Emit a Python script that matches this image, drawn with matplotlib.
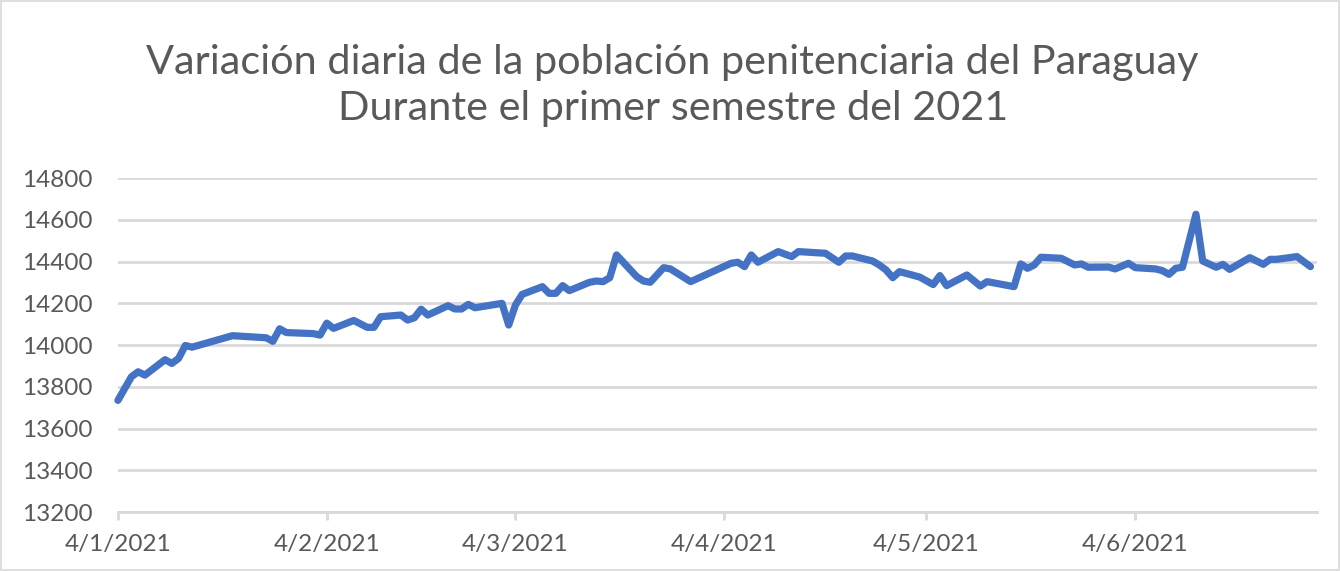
import datetime as dt
import matplotlib
matplotlib.use("Agg")
import matplotlib.pyplot as plt
import matplotlib.dates as mdates
from matplotlib.patches import Rectangle
from matplotlib.ticker import FuncFormatter, MultipleLocator

# Days counted from 4 Jan 2021 (first record) and inmate totals
start_date = dt.date(2021, 1, 4)
day_offsets = [0, 2, 3, 4, 7, 8, 9, 10, 11, 17, 22, 23, 24, 25, 29, 30, 31, 32, 35,
               37, 38, 39, 42, 43, 44, 45, 46, 49, 50, 51, 52, 53, 57, 58, 59, 60,
               63, 64, 65, 66, 67, 70, 71, 72, 73, 74, 77, 78, 79, 81, 82, 85, 91,
               92, 93, 94, 95, 98, 100, 101, 105, 107, 108, 109, 112, 113, 114, 115,
               116, 119, 121, 122, 123, 126, 128, 129, 133, 134, 135, 136, 137, 140,
               142, 143, 144, 147, 148, 150, 151, 154, 155, 156, 157, 158, 160, 161,
               163, 164, 165, 168, 170, 171, 172, 175, 177]
poblacion = [13735, 13848, 13872, 13856, 13930, 13912, 13936, 13998, 13990, 14045,
             14035, 14018, 14078, 14060, 14055, 14048, 14105, 14080, 14118, 14085,
             14085, 14136, 14144, 14120, 14131, 14172, 14144, 14189, 14173, 14173,
             14195, 14179, 14200, 14096, 14192, 14243, 14280, 14248, 14248, 14285,
             14261, 14301, 14307, 14304, 14323, 14432, 14328, 14307, 14301, 14371,
             14365, 14304, 14392, 14397, 14376, 14432, 14397, 14448, 14424, 14448,
             14440, 14397, 14427, 14427, 14403, 14384, 14360, 14323, 14352, 14326,
             14290, 14333, 14285, 14336, 14283, 14304, 14280, 14389, 14368, 14384,
             14421, 14416, 14384, 14389, 14373, 14374, 14365, 14392, 14371, 14365,
             14357, 14339, 14368, 14373, 14627, 14403, 14373, 14387, 14363, 14419,
             14387, 14411, 14411, 14424, 14376]
end_date = dt.date(2021, 7, 1)

fechas = [start_date + dt.timedelta(days=d) for d in day_offsets]

plt.rcParams['font.family'] = ['Lato', 'DejaVu Sans']
texto = '#595959'
gris = '#d9d9d9'

fig = plt.figure(figsize=(13.4, 5.71), dpi=100)
ax = fig.add_axes([0.088, 0.1033, 0.895, 0.5847])

ax.plot(fechas, poblacion, color='#4472C4', linewidth=5.2,
        solid_joinstyle='round', solid_capstyle='round', zorder=3, clip_on=False)

ax.set_ylim(13200, 14800)
ax.yaxis.set_major_locator(MultipleLocator(200))
ax.set_xlim(start_date, end_date)
ax.xaxis.set_major_locator(mdates.MonthLocator(bymonthday=4))
ax.xaxis.set_major_formatter(FuncFormatter(
    lambda v, pos: (lambda d: f"{d.day}/{d.month}/{d.year}")(mdates.num2date(v))))

ax.grid(axis='y', color=gris, linewidth=2)
for s in ['top', 'right', 'left']:
    ax.spines[s].set_visible(False)
ax.spines['bottom'].set_color(gris)
ax.spines['bottom'].set_linewidth(2)

ax.tick_params(axis='y', length=0, pad=18, labelsize=17.5, labelcolor=texto)
ax.tick_params(axis='x', length=6, width=2, color=gris, pad=10,
               labelsize=17.5, labelcolor=texto)

fig.text(0.502, 0.851, 'Variación diaria de la población penitenciaria del Paraguay\n'
         'Durante el primer semestre del 2021', ha='center', va='center',
         fontsize=29.8, color=texto, linespacing=1.3)

# thin chart-area border like the Excel export
fig.patches.append(Rectangle((0.0005, 0.001), 0.999, 0.998, transform=fig.transFigure,
                             fill=False, edgecolor=gris, linewidth=1.2))

fig.savefig('out.png', dpi=100)
